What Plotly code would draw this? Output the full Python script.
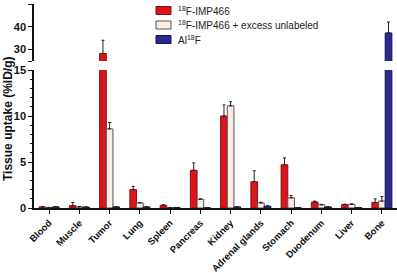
import plotly.graph_objects as go

categories = ["Blood", "Muscle", "Tumor", "Lung", "Spleen", "Pancreas", "Kidney",
              "Adrenal glands", "Stomach", "Duodenum", "Liver", "Bone"]

imp466 = [0.12, 0.25, 28.3, 2.0, 0.3, 4.1, 10.0, 2.85, 4.7, 0.65, 0.37, 0.6]
imp466_err = [0.05, 0.35, 5.8, 0.35, 0.05, 0.8, 1.2, 1.2, 0.75, 0.1, 0.05, 0.4]

blocked = [0.05, 0.12, 8.6, 0.55, 0.05, 0.95, 11.1, 0.55, 1.1, 0.35, 0.4, 0.75]
blocked_err = [0.02, 0.05, 0.7, 0.05, 0.02, 0.05, 0.45, 0.08, 0.25, 0.05, 0.05, 0.5]

alf = [0.12, 0.1, 0.12, 0.12, 0.05, 0.03, 0.12, 0.2, 0.05, 0.12, 0.05, 37.3]
alf_err = [0.02, 0.02, 0.02, 0.02, 0.01, 0.01, 0.02, 0.03, 0.01, 0.02, 0.01, 4.8]

series_names = ["<sup>18</sup>F-IMP466",
                "<sup>18</sup>F-IMP466 + excess unlabeled",
                "Al<sup>18</sup>F"]

series = [
    (series_names[0], imp466, imp466_err, "#dc141e", "#8a0a10"),
    (series_names[1], blocked, blocked_err, "#fdece4", "#555555"),
    (series_names[2], alf, alf_err, "#2c2a8e", "#15144a"),
]

fig = go.Figure()
for yax in ["y", "y2"]:
    for name, vals, errs, fill, line in series:
        fig.add_trace(go.Bar(
            x=categories, y=vals, name=name, yaxis=yax,
            showlegend=False,
            marker=dict(color=fill, line=dict(color=line, width=1)),
            error_y=dict(type="data", symmetric=False, array=errs,
                         arrayminus=[0] * len(errs), color="#222222",
                         thickness=1, width=1.5),
        ))

W, H = 397, 273
ml, mr, mt, mb = 34, 0, 4, 65
pw = W - ml - mr
ph = H - mt - mb

def xfrac(px):
    return (px - ml) / pw

def yfrac(py):
    return (H - mb - py) / ph

FAM = "Liberation Sans, Arial, sans-serif"
YTICKFONT = dict(family=FAM, size=11, color="#111111", weight="bold")
XTICKFONT = dict(family=FAM, size=9.5, color="#111111", weight="bold")

# manual legend (decoration)
shapes, annotations = [], []
for i, (name, vals, errs, fill, line) in enumerate(series):
    cy = 10.5 + 14.5 * i
    shapes.append(dict(type="rect", xref="paper", yref="paper",
                       x0=xfrac(156), x1=xfrac(171), y0=yfrac(cy + 4), y1=yfrac(cy - 4),
                       fillcolor=fill, line=dict(color=line, width=1)))
    annotations.append(dict(text=name, xref="paper", yref="paper",
                            x=xfrac(176), y=yfrac(cy), xanchor="left", yanchor="middle",
                            showarrow=False, font=dict(size=10, color="#222222")))

annotations.append(dict(
    text="<b>Tissue uptake (%ID/g)</b>", textangle=-90,
    xref="paper", yref="paper", x=xfrac(8), y=yfrac(119),
    xanchor="center", yanchor="middle", showarrow=False,
    font=dict(size=12, color="#111111"),
))

fig.update_layout(
    width=W, height=H,
    margin=dict(l=ml, r=mr, t=mt, b=mb, autoexpand=False),
    paper_bgcolor="white", plot_bgcolor="white",
    barmode="group", bargap=0.34, bargroupgap=0.0,
    font=dict(family=FAM, size=10, color="#111111"),
    showlegend=False,
    xaxis=dict(
        type="category", range=[-0.5, 11.5], showline=True, linecolor="#111111",
        linewidth=1.5, ticks="outside", ticklen=4, tickcolor="#111111",
        tickwidth=1, tickangle=-45, showgrid=False, zeroline=False,
        tickfont=XTICKFONT, anchor="y", automargin=False,
    ),
    yaxis=dict(
        domain=[0, yfrac(70)], range=[0, 15], showline=True, linecolor="#111111",
        linewidth=1.5, ticks="outside", ticklen=4, tickcolor="#111111",
        tickvals=[0, 5, 10, 15], showgrid=False, zeroline=False,
        tickfont=YTICKFONT,
        minor=dict(ticks="outside", ticklen=2, tickcolor="#111111", dtick=1),
        anchor="x", automargin=False,
    ),
    yaxis2=dict(
        domain=[yfrac(61), 1], range=[25, 50], showline=True, linecolor="#111111",
        linewidth=1.5, ticks="outside", ticklen=4, tickcolor="#111111",
        tickvals=[25, 30, 40, 50], ticktext=["", "30", "40", "50"],
        showgrid=False, zeroline=False, tickfont=YTICKFONT,
        anchor="x", automargin=False,
    ),
    shapes=shapes,
    annotations=annotations,
)

fig.write_html("out.html", config={"displayModeBar": False},
               post_script="document.body.style.margin='0';")
